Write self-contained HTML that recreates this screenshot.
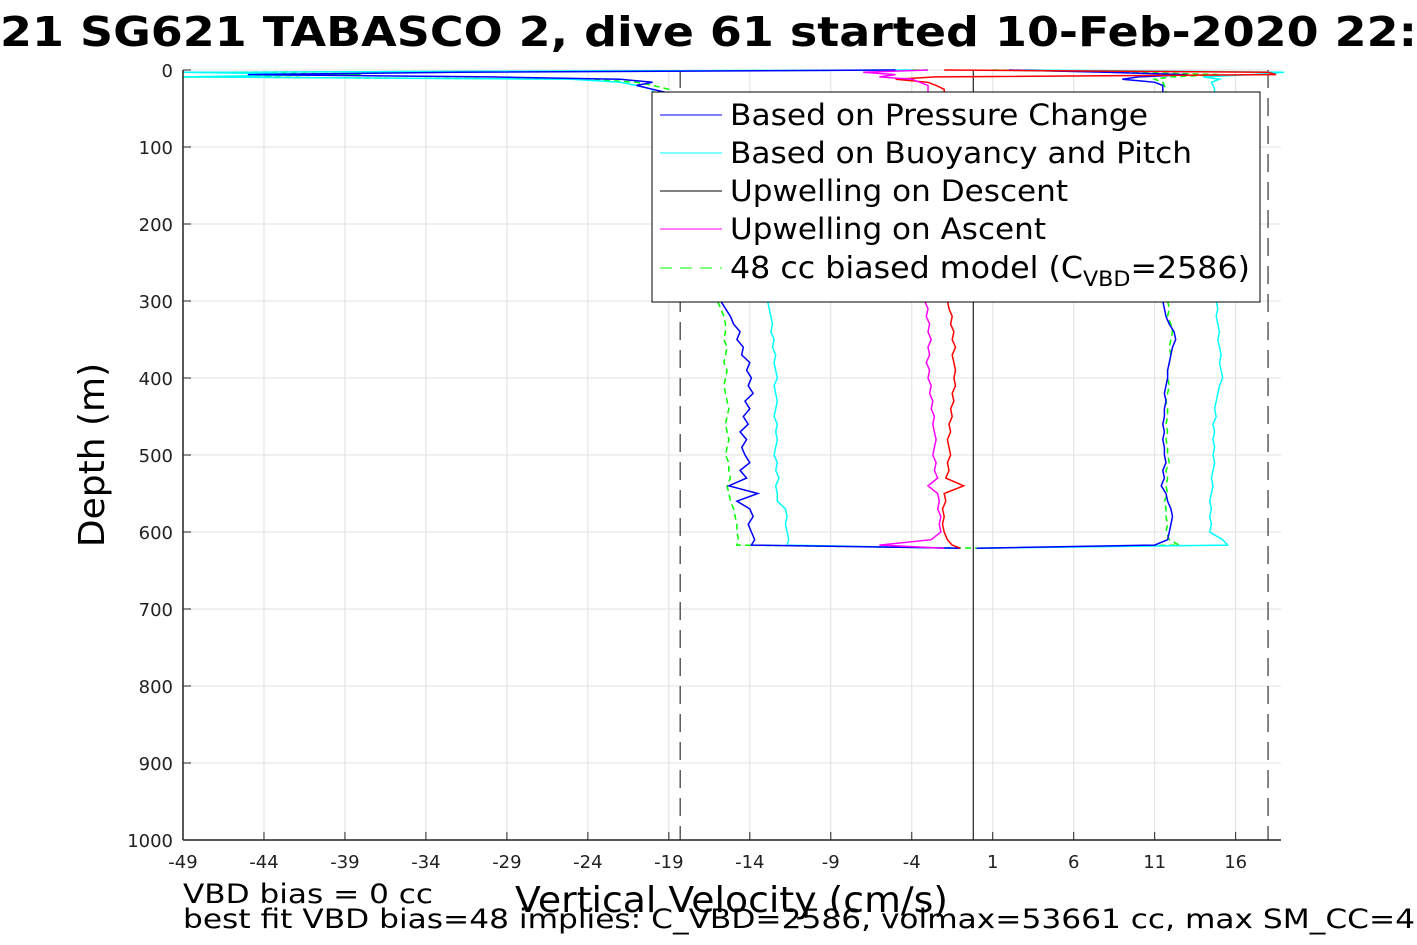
<!DOCTYPE html>
<html><head><meta charset="utf-8">
<style>
html,body{margin:0;padding:0;background:#fff;overflow:hidden;}
svg{display:block;font-family:"DejaVu Sans","Liberation Sans",sans-serif;}
</style></head>
<body>
<svg id="chart" width="1417" height="945" viewBox="0 0 1417 945" xmlns="http://www.w3.org/2000/svg">
<text x="0" y="46" font-size="41" font-weight="bold" textLength="1417" lengthAdjust="spacingAndGlyphs">21 SG621 TABASCO 2, dive 61 started 10-Feb-2020 22:</text>
<g id="grid"></g>
<g id="plot"></g>
<g id="axes"></g>
<text transform="translate(104,455) rotate(-90)" font-size="36" text-anchor="middle">Depth (m)</text>
<text x="515" y="912" font-size="36" textLength="433" lengthAdjust="spacingAndGlyphs">Vertical Velocity (cm/s)</text>
<text x="183" y="903" font-size="27" textLength="250" lengthAdjust="spacingAndGlyphs">VBD bias = 0 cc</text>
<text x="183" y="928" font-size="27" textLength="1232" lengthAdjust="spacingAndGlyphs">best fit VBD bias=48 implies: C_VBD=2586, volmax=53661 cc, max SM_CC=4</text>
<g>
<rect x="652" y="92" width="608" height="210" fill="#fff" stroke="#000" stroke-width="1"/>
<line x1="660" y1="115" x2="722" y2="115" stroke="#0000ff"/>
<text x="730" y="125" font-size="29" textLength="418" lengthAdjust="spacingAndGlyphs">Based on Pressure Change</text>
<line x1="660" y1="153" x2="722" y2="153" stroke="#00ffff"/>
<text x="730" y="163" font-size="29" textLength="462" lengthAdjust="spacingAndGlyphs">Based on Buoyancy and Pitch</text>
<line x1="660" y1="191" x2="722" y2="191" stroke="#000"/>
<text x="730" y="201" font-size="29" textLength="338" lengthAdjust="spacingAndGlyphs">Upwelling on Descent</text>
<line x1="660" y1="229" x2="722" y2="229" stroke="#ff00ff"/>
<text x="730" y="239" font-size="29" textLength="316" lengthAdjust="spacingAndGlyphs">Upwelling on Ascent</text>
<line x1="660" y1="268" x2="722" y2="268" stroke="#00ff00" stroke-dasharray="12,8"/>
<text x="730" y="278" font-size="30" textLength="520" lengthAdjust="spacingAndGlyphs">48 cc biased model (C<tspan font-size="21" dy="8">VBD</tspan><tspan dy="-8">=2586)</tspan></text>
</g>
</svg>
<script>
const xTicks=[-49,-44,-39,-34,-29,-24,-19,-14,-9,-4,1,6,11,16];
const yTicks=[0,100,200,300,400,500,600,700,800,900,1000];
const depths=[0,3,6,9,12,16,20,25,30,50,100,150,200,250,300,310,320,330,340,350,360,370,380,390,400,410,420,430,440,450,460,470,480,490,500,510,520,530,540,550,560,570,580,590,600,610,617,621];
const blueDescent=[-5,-32,-45,-30,-22,-20,-21,-20,-19,-18,-17,-16.5,-16,-16,-15.8,-15.5,-15.2,-15.0,-14.6,-14.8,-14.4,-14.5,-14.0,-14.2,-13.9,-14.1,-13.8,-14.3,-14.0,-14.4,-14.1,-14.6,-14.2,-14.5,-14.3,-14.0,-14.6,-14.2,-15.3,-13.5,-14.8,-14.0,-13.8,-14.1,-13.9,-13.7,-13.9,-1];
const cyanDescent=[-4,-49,-40,-49,-25,-22,-21,-20,-20,-17,-15,-14,-13.5,-13,-12.9,-12.8,-12.7,-12.6,-12.7,-12.5,-12.6,-12.4,-12.5,-12.4,-12.3,-12.5,-12.4,-12.3,-12.4,-12.5,-12.3,-12.4,-12.3,-12.4,-12.5,-12.3,-12.4,-12.2,-12.4,-12.3,-12.3,-11.8,-11.7,-11.8,-11.7,-11.6,-11.7,-1];
const greenDescent=[-3,-48,-38,-49,-24,-21,-20,-19,-19,-17,-16.5,-16,-16,-16,-16.0,-15.8,-15.6,-15.5,-15.5,-15.6,-15.4,-15.5,-15.6,-15.4,-15.5,-15.6,-15.5,-15.4,-15.3,-15.4,-15.5,-15.4,-15.3,-15.4,-15.5,-15.3,-15.3,-15.2,-15.4,-15.3,-15.2,-15.0,-14.9,-14.8,-14.8,-14.7,-14.8,0];
const redUpwelling=[-2,18,18.5,-2.5,-5,-3,-2.5,-2,-2,-2,-2,-2,-2,-2,-1.8,-1.7,-1.5,-1.6,-1.4,-1.5,-1.3,-1.5,-1.4,-1.3,-1.4,-1.3,-1.5,-1.4,-1.6,-1.5,-1.7,-1.6,-1.8,-1.7,-1.6,-1.8,-1.7,-1.9,-0.8,-2.0,-1.9,-2.1,-2.0,-2.1,-2.0,-1.8,-1.5,-1];
const magentaUpwelling=[-3,-7,-5,-6,-4,-3.5,-3,-3,-3,-3,-3,-3,-3,-3,-3.2,-3.0,-3.1,-2.9,-3.0,-2.8,-3.0,-2.9,-3.1,-2.9,-3.0,-2.8,-2.9,-2.7,-2.8,-2.6,-2.7,-2.6,-2.5,-2.6,-2.7,-2.5,-2.6,-2.4,-3.0,-2.4,-2.3,-2.4,-2.2,-2.3,-2.2,-2.8,-6,-2];
const blueAscent=[2,8,13,10,9,11,11.5,11.5,11.5,11.5,11.5,11.5,11.6,11.6,11.5,11.6,11.7,11.9,12.2,12.3,12.1,12.0,11.9,11.8,11.8,11.7,11.6,11.7,11.6,11.6,11.5,11.6,11.5,11.6,11.6,11.7,11.5,11.6,11.4,11.7,11.8,12.0,12.1,12.0,11.9,11.8,11,0];
const greenAscent=[1,10,15,12,11,11.5,11.6,11.7,11.7,11.7,11.8,11.8,11.8,11.8,11.8,11.9,11.8,12.0,12.1,12.0,11.9,12.0,11.9,11.8,11.8,11.9,11.8,11.7,11.8,11.8,11.7,11.8,11.7,11.8,11.8,11.9,11.7,11.8,11.7,11.8,11.6,11.7,11.7,11.8,11.7,11.9,12.5,0];
const cyanAscent=[3,19,17,14,15,14.5,14.6,14.7,14.7,14.7,14.8,14.8,14.8,14.8,14.8,14.9,14.8,14.9,15.0,14.9,15.0,15.1,15.0,15.1,15.2,15.0,14.9,14.8,14.7,14.8,14.6,14.7,14.6,14.7,14.6,14.7,14.6,14.5,14.6,14.5,14.4,14.5,14.4,14.5,14.4,15.2,15.5,0];
const limitLines=[-18.3,18.0];
const zeroLine=[-0.2];

const NS="http://www.w3.org/2000/svg";
const X0=183,X1=1281,Y0=70,Y1=840,XMIN=-49,XMAX=18.8,YMIN=0,YMAX=1000;
function sx(v){return X0+(v-XMIN)/(XMAX-XMIN)*(X1-X0);}
function sy(d){return Y0+(d-YMIN)/(YMAX-YMIN)*(Y1-Y0);}
function mk(tag,attrs,parent){const e=document.createElementNS(NS,tag);for(const k in attrs)e.setAttribute(k,attrs[k]);parent.appendChild(e);return e;}
const grid=document.getElementById('grid'),plot=document.getElementById('plot'),axes=document.getElementById('axes');
xTicks.forEach(t=>{
  const l=mk('line',{x1:sx(t),x2:sx(t),y1:Y0,y2:Y1,stroke:'#e0e0e0','stroke-width':1},grid);
  
  
  const tk=mk('line',{x1:sx(t),x2:sx(t),y1:Y1,y2:Y1-8,stroke:'#222'},axes);
  
  
  const tx=mk('text',{x:sx(t),y:Y1+28,'font-size':18,'text-anchor':'middle',fill:'#222'},axes);
  tx.textContent=t;
  
  
});
yTicks.forEach(t=>{
  const l=mk('line',{x1:X0,x2:X1,y1:sy(t),y2:sy(t),stroke:'#e0e0e0','stroke-width':1},grid);
  
  
  const tk=mk('line',{x1:X0,x2:X0+8,y1:sy(t),y2:sy(t),stroke:'#222'},axes);
  
  
  const tx=mk('text',{x:X0-10,y:sy(t)+7,'font-size':18,'text-anchor':'end',fill:'#222'},axes);
  tx.textContent=t;
  
  
});
const ax1=mk('line',{x1:X0,x2:X0,y1:Y0,y2:Y1,stroke:'#222','stroke-width':1.5},axes);


const ax2=mk('line',{x1:X0,x2:X1,y1:Y1,y2:Y1,stroke:'#222','stroke-width':1.5},axes);


limitLines.forEach(v=>{
  const l=mk('line',{x1:sx(v),x2:sx(v),y1:Y0,y2:Y1,stroke:'#333','stroke-dasharray':'18,10','stroke-width':1.2},plot);
  
  
});
zeroLine.forEach(v=>{
  const l=mk('line',{x1:sx(v),x2:sx(v),y1:Y0,y2:Y1,stroke:'#222','stroke-width':1.2},plot);
  
  
});
function series(vals,color,name,dash){
  const pts=vals.map((v,i)=>sx(v).toFixed(1)+','+sy(depths[i]).toFixed(1)).join(' ');
  const a={points:pts,fill:'none',stroke:color,'stroke-width':1.5};
  if(dash)a['stroke-dasharray']=dash;
  const p=mk('polyline',a,plot);
  
  
}
series(greenDescent,'#00ff00','biased-model-descent','6,4');
series(greenAscent,'#00ff00','biased-model-ascent','6,4');
series(cyanDescent,'#00ffff','buoyancy-pitch-descent');
series(cyanAscent,'#00ffff','buoyancy-pitch-ascent');
series(blueDescent,'#0000ff','pressure-change-descent');
series(blueAscent,'#0000ff','pressure-change-ascent');
series(redUpwelling,'#ff0000','upwelling-descent');
series(magentaUpwelling,'#ff00ff','upwelling-ascent');
</script>
</body></html>
